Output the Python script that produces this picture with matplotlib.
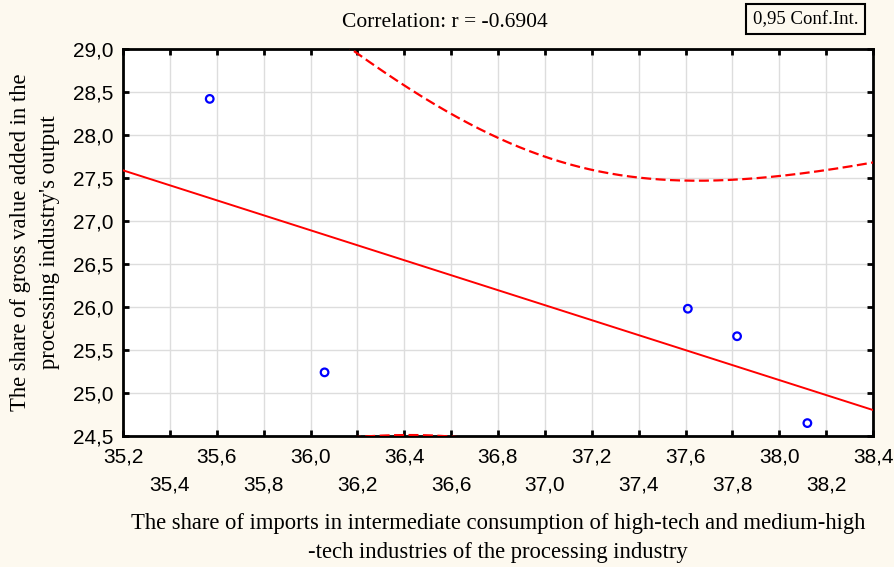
import numpy as np
import matplotlib
matplotlib.use('Agg')
import matplotlib.pyplot as plt
from matplotlib.ticker import FixedLocator, FuncFormatter

# data
share_imports = np.array([35.57, 36.06, 37.61, 37.82, 38.12])
share_gva = np.array([28.42, 25.24, 25.98, 25.66, 24.65])
t_crit = 3.1824  # t(0.975, df=3)

x_major = [35.2, 35.6, 36.0, 36.4, 36.8, 37.2, 37.6, 38.0, 38.4]
x_minor = [35.4, 35.8, 36.2, 36.6, 37.0, 37.4, 37.8, 38.2]
y_ticks = [24.5, 25.0, 25.5, 26.0, 26.5, 27.0, 27.5, 28.0, 28.5, 29.0]


def comma_fmt(v, pos=None):
    return ('%.1f' % v).replace('.', ',')


# regression + 0.95 confidence band
slope, icpt = np.polyfit(share_imports, share_gva, 1)
n = len(share_imports)
xs = np.linspace(35.2, 38.4, 300)
yhat = icpt + slope * xs
resid = share_gva - (icpt + slope * share_imports)
s = np.sqrt(np.sum(resid ** 2) / (n - 2))
sxx = np.sum((share_imports - share_imports.mean()) ** 2)
half = t_crit * s * np.sqrt(1.0 / n + (xs - share_imports.mean()) ** 2 / sxx)

fig = plt.figure(figsize=(8.95, 5.67), dpi=100)
fig.patch.set_facecolor('#fdf9ef')
ax = fig.add_axes([123 / 895, 131 / 567, 750 / 895, 387 / 567])
ax.set_facecolor('white')

ax.plot(xs, yhat, color='red', lw=1.4, zorder=3)
ax.plot(xs, yhat + half, color='red', lw=1.6, ls=(0, (4.5, 2)), zorder=3)
ax.plot(xs, yhat - half, color='red', lw=1.6, ls=(0, (4.5, 2)), zorder=3)
ax.scatter(share_imports, share_gva, s=30, facecolors='none', edgecolors='blue',
           linewidths=1.6, zorder=4)

ax.set_xlim(35.2, 38.4)
ax.set_ylim(24.5, 29.0)
ax.xaxis.set_major_locator(FixedLocator(x_major))
ax.xaxis.set_minor_locator(FixedLocator(x_minor))
ax.yaxis.set_major_locator(FixedLocator(y_ticks))
ax.xaxis.set_major_formatter(FuncFormatter(comma_fmt))
ax.xaxis.set_minor_formatter(FuncFormatter(comma_fmt))
ax.yaxis.set_major_formatter(FuncFormatter(comma_fmt))

ax.grid(True, which='both', color='#dddddd', lw=1, zorder=0)
ax.set_axisbelow(True)
for sp in ax.spines.values():
    sp.set_linewidth(2)
    sp.set_color('black')

ax.tick_params(axis='x', which='major', direction='in', length=4, width=2,
               top=True, pad=8.5, labelsize=15)
ax.tick_params(axis='x', which='minor', direction='in', length=4, width=2,
               top=True, pad=28.5, labelsize=15)
ax.tick_params(axis='y', which='major', direction='in', length=4, width=2,
               right=True, pad=7, labelsize=15)
for lab in ax.get_xticklabels(which='both') + ax.get_yticklabels():
    lab.set_fontfamily('Liberation Sans')

ax.set_xlabel('The share of imports in intermediate consumption of high-tech and medium-high\n'
              '-tech industries of the processing industry',
              fontfamily='Liberation Serif', fontsize=16.3, labelpad=13, linespacing=1.5)
ax.set_ylabel("The share of gross value added in the\nprocessing industry's output",
              fontfamily='Liberation Serif', fontsize=16.3, labelpad=9, linespacing=1.5)

fig.text(0.497, 0.96, 'Correlation: r = -0.6904', ha='center', va='center',
         fontfamily='Liberation Serif', fontsize=15.5)
fig.text(0.9, 0.966, '0,95 Conf.Int.', ha='center', va='center',
         fontfamily='Liberation Serif', fontsize=13.5,
         bbox=dict(boxstyle='square,pad=0.35', fc='none', ec='black', lw=1.5))

fig.savefig('out.png', dpi=100, facecolor=fig.get_facecolor())
